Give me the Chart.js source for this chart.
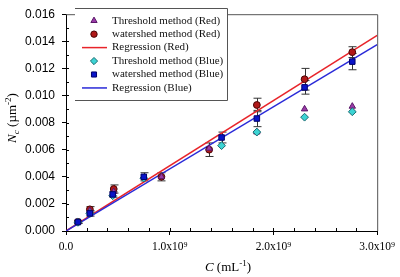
<!DOCTYPE html>
<html>
<head>
<meta charset="utf-8">
<script src="https://cdn.jsdelivr.net/npm/chart.js@4/dist/chart.umd.min.js"></script>
<style>
  html, body { margin: 0; padding: 0; background: #fff; }
  #wrap { width: 400px; height: 277px; position: relative; }
</style>
</head>
<body>
<div id="wrap"><canvas id="c"></canvas></div>
<script>
// Concentrations (mL^-1) for the red and blue particle sets
const xRed = [0.115e9, 0.23e9, 0.46e9, 0.92e9, 1.38e9, 1.84e9, 2.30e9, 2.76e9];
const xBlue = [0.115e9, 0.23e9, 0.45e9, 0.75e9, 1.50e9, 1.84e9, 2.30e9, 2.76e9];

// Nc (um^-2)
const thresholdRed = [0.00066, 0.0015, 0.0029, 0.0040, 0.0061, 0.0073, 0.0090, 0.0092];
const watershedRed = [0.00068, 0.0016, 0.0031, 0.0040, 0.0060, 0.0093, 0.0112, 0.0132];
const watershedRedErr = [0.0001, 0.0002, 0.0003, 0.0003, 0.0005, 0.0005, 0.0008, 0.0004];
const thresholdBlue = [0.00064, 0.0013, 0.0026, 0.0039, 0.0063, 0.0073, 0.0084, 0.0088];
const watershedBlue = [0.00066, 0.0013, 0.0027, 0.0040, 0.0069, 0.0083, 0.0106, 0.0125];
const watershedBlueErr = [0.0001, 0.0002, 0.0002, 0.0003, 0.0004, 0.0006, 0.0005, 0.0006];

// Regression lines through origin, end points at the axis limits
const regX = [0, 3.0e9];
const regRed = [0, 0.01444];
const regBlue = [0, 0.01375];

const xTicks = ['0.0', '1.0x10\u2079', '2.0x10\u2079', '3.0x10\u2079'];

const SERIF = "'Liberation Serif', 'Times New Roman', serif";
const SANS = "'Liberation Sans', Arial, sans-serif";

const COLORS = {
    tri: '#9a3aa8', triEdge: '#5a1868',
    circ: '#b01818', circEdge: '#4a0606',
    diam: '#3cd4d4', diamEdge: '#1a6a70',
    sq: '#0a14c8', sqEdge: '#00006a',
    regRed: '#e8242a', regBlue: '#2a2ad8',
    frame: '#555', err: '#333',
};

const pts = (xs, ys) => xs.map((x, i) => ({ x, y: ys[i] }));

const LEGEND = [
    { label: 'Threshold method (Red)', style: 'triangle', fill: COLORS.tri, edge: COLORS.triEdge },
    { label: 'watershed method (Red)', style: 'circle', fill: COLORS.circ, edge: COLORS.circEdge },
    { label: 'Regression (Red)', style: 'line', fill: COLORS.regRed },
    { label: 'Threshold method (Blue)', style: 'rectRot', fill: COLORS.diam, edge: COLORS.diamEdge },
    { label: 'watershed method (Blue)', style: 'rect', fill: COLORS.sq, edge: COLORS.sqEdge },
    { label: 'Regression (Blue)', style: 'line', fill: COLORS.regBlue },
];

// error bars, drawn under the markers
const errorBars = {
    id: 'errorBars',
    beforeDatasetsDraw(chart) {
        const { ctx, scales: { x, y } } = chart;
        ctx.save();
        ctx.strokeStyle = COLORS.err;
        ctx.lineWidth = 1;
        const draw = (xs, ys, es) => {
            xs.forEach((v, i) => {
                const px = Math.round(x.getPixelForValue(v)) + 0.5;
                const top = y.getPixelForValue(ys[i] + es[i]);
                const bot = y.getPixelForValue(ys[i] - es[i]);
                ctx.beginPath();
                ctx.moveTo(px, top); ctx.lineTo(px, bot);
                ctx.moveTo(px - 4, top); ctx.lineTo(px + 4, top);
                ctx.moveTo(px - 4, bot); ctx.lineTo(px + 4, bot);
                ctx.stroke();
            });
        };
        draw(xRed, watershedRed, watershedRedErr);
        draw(xBlue, watershedBlue, watershedBlueErr);
        ctx.restore();
    }
};

function drawRich(ctx, parts, size) {
    // parts: [text, italic, shift]
    let w = 0;
    for (const p of parts) {
        const s = p[2] ? size * 0.7 : size;
        ctx.font = (p[1] ? 'italic ' : '') + s + 'px ' + SERIF;
        w += ctx.measureText(p[0]).width;
    }
    let cx = -w / 2;
    for (const p of parts) {
        const s = p[2] ? size * 0.7 : size;
        ctx.font = (p[1] ? 'italic ' : '') + s + 'px ' + SERIF;
        ctx.fillText(p[0], cx, p[2] * size);
        cx += ctx.measureText(p[0]).width;
    }
}

const decorations = {
    id: 'decorations',
    afterDraw(chart) {
        const { ctx, chartArea: a, scales: { x, y } } = chart;
        ctx.save();

        // top and right frame
        ctx.strokeStyle = COLORS.frame;
        ctx.lineWidth = 1;
        ctx.beginPath();
        ctx.moveTo(a.left, a.top + 0.5); ctx.lineTo(a.right + 0.5, a.top + 0.5);
        ctx.lineTo(a.right + 0.5, a.bottom);
        ctx.stroke();

        // minor ticks, pointing inside
        ctx.strokeStyle = '#000';
        ctx.beginPath();
        for (let v = 0.001; v < 0.016; v += 0.001) {
            const py = Math.round(y.getPixelForValue(v)) + 0.5;
            ctx.moveTo(a.left, py); ctx.lineTo(a.left + 3, py);
        }
        for (let v = 0.2e9; v < 3.0e9; v += 0.2e9) {
            const px = Math.round(x.getPixelForValue(v)) + 0.5;
            ctx.moveTo(px, a.bottom); ctx.lineTo(px, a.bottom - 3);
        }
        ctx.stroke();

        // legend
        const lx0 = 75, ly0 = 8, lx1 = 227, ly1 = 100;
        ctx.fillStyle = '#fff';
        ctx.fillRect(lx0, ly0, lx1 - lx0, ly1 - ly0);
        ctx.strokeStyle = COLORS.frame;
        ctx.beginPath();
        ctx.moveTo(lx0, ly0 + 0.5); ctx.lineTo(lx1 + 0.5, ly0 + 0.5);
        ctx.lineTo(lx1 + 0.5, ly1 + 0.5); ctx.lineTo(lx0, ly1 + 0.5);
        ctx.stroke();
        LEGEND.forEach((e, i) => {
            const cy = 20.7 + i * 13.45;
            if (e.style === 'line') {
                ctx.strokeStyle = e.fill;
                ctx.lineWidth = 1.5;
                ctx.beginPath();
                ctx.moveTo(82, cy); ctx.lineTo(107, cy);
                ctx.stroke();
            } else {
                ctx.fillStyle = e.fill;
                ctx.strokeStyle = e.edge;
                ctx.lineWidth = 1;
                Chart.helpers.drawPoint(ctx, { pointStyle: e.style, radius: e.style === 'circle' ? 3.2 : 3.6, borderWidth: 1 }, 94, cy);
            }
            ctx.fillStyle = '#111';
            ctx.font = '11px ' + SERIF;
            ctx.textBaseline = 'middle';
            ctx.fillText(e.label, 112, cy);
        });

        // axis titles
        ctx.fillStyle = '#000';
        ctx.textBaseline = 'middle';
        ctx.save();
        ctx.translate(228, 268);
        drawRich(ctx, [['C', true, 0], [' (mL', false, 0], ['-1', false, -0.35], [')', false, 0]], 13);
        ctx.restore();
        ctx.save();
        ctx.translate(13, 118);
        ctx.rotate(-Math.PI / 2);
        drawRich(ctx, [['N', true, 0], ['c', true, 0.3], [' (\u00b5m', false, 0], ['-2', false, -0.35], [')', false, 0]], 13);
        ctx.restore();

        ctx.restore();
    }
};

const scatterSet = (label, data, style, fill, edge, radius, order) => ({
    label, data, order,
    pointStyle: style,
    pointRadius: radius,
    pointHoverRadius: radius,
    backgroundColor: fill,
    borderColor: edge,
    pointBorderWidth: 1,
    showLine: false,
});

new Chart(document.getElementById('c'), {
    type: 'scatter',
    data: {
        datasets: [
            { label: 'Regression (Red)', data: pts(regX, regRed), showLine: true, borderColor: COLORS.regRed, borderWidth: 1.5, pointRadius: 0, order: 10 },
            { label: 'Regression (Blue)', data: pts(regX, regBlue), showLine: true, borderColor: COLORS.regBlue, borderWidth: 1.5, pointRadius: 0, order: 9 },
            scatterSet('watershed method (Red)', pts(xRed, watershedRed), 'circle', COLORS.circ, COLORS.circEdge, 3.4, 5),
            scatterSet('Threshold method (Red)', pts(xRed, thresholdRed), 'triangle', COLORS.tri, COLORS.triEdge, 3.7, 4),
            scatterSet('Threshold method (Blue)', pts(xBlue, thresholdBlue), 'rectRot', COLORS.diam, COLORS.diamEdge, 3.9, 3),
            scatterSet('watershed method (Blue)', pts(xBlue, watershedBlue), 'rect', COLORS.sq, COLORS.sqEdge, 3.9, 2),
        ]
    },
    options: {
        responsive: true,
        maintainAspectRatio: false,
        animation: false,
        events: [],
        layout: { autoPadding: false, padding: { top: 4, right: 19, left: 0, bottom: 0 } },
        plugins: {
            legend: { display: false },
            tooltip: { enabled: false },
        },
        scales: {
            x: {
                type: 'linear',
                min: 0,
                max: 3.0e9,
                afterFit: s => { s.height = 46; },
                afterBuildTicks: s => { s.ticks = xTicks.map((_, i) => ({ value: i * 1e9 })); },
                grid: { drawOnChartArea: false, tickLength: 4, tickColor: '#000' },
                border: { color: '#000' },
                ticks: {
                    color: '#000',
                    padding: 5,
                    maxRotation: 0,
                    font: { size: 11.5, family: SERIF },
                    callback: (v, i) => xTicks[i],
                },
            },
            y: {
                min: 0,
                max: 0.016,
                afterFit: s => { s.width = 66; },
                grid: { drawOnChartArea: false, tickLength: 4, tickColor: '#000' },
                border: { color: '#000' },
                ticks: {
                    stepSize: 0.002,
                    color: '#000',
                    padding: 7,
                    font: { size: 12, family: SANS },
                    callback: v => v.toFixed(3),
                },
            },
        },
    },
    plugins: [errorBars, decorations],
});
</script>
</body>
</html>
